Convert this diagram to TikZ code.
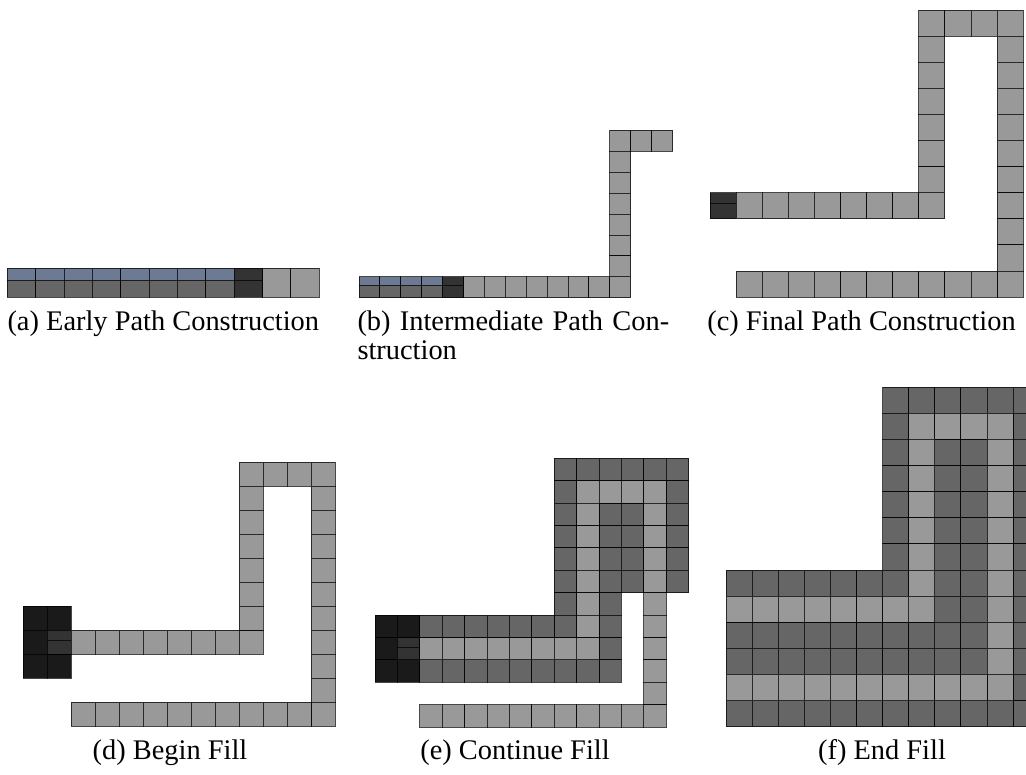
\documentclass[tikz,border=0pt]{standalone}
\usepackage{fontspec}
\setmainfont{Liberation Serif}
\definecolor{cLG}{HTML}{999999}
\definecolor{cDK}{HTML}{666666}
\definecolor{cDD}{HTML}{333333}
\definecolor{cBK}{HTML}{1A1A1A}
\definecolor{cBL}{HTML}{6C7A94}
\tikzset{
  cellline/.style={draw=black, draw opacity=0.72, line width=0.9pt},
  lg/.style={fill=cLG}, dk/.style={fill=cDK}, dd/.style={fill=cDD}, bk/.style={fill=cBK},
  caption/.style={font=\fontsize{28.4}{31}\selectfont, inner sep=0pt}
}
\newcommand\sq[3]{\path[#3,cellline] (#1,#2) rectangle ++(1,1);}
\newcommand\splitsq[5]{%
  \fill[#3] (#1,#2) rectangle ++(1,#5);
  \fill[#4] (#1,#2+#5) rectangle (#1+1,#2+1);
  \draw[cellline] (#1,#2) rectangle ++(1,1);
  \draw[cellline] (#1,#2+#5) -- ++(1,0);}
\begin{document}
\begin{tikzpicture}[x=1pt,y=-1pt]
\useasboundingbox (0,0) rectangle (1026,775);
% (a)
\begin{scope}[shift={(7.3,268.4)}, x=28.36pt, y=-28.9pt]
  \foreach \i in {0,...,7} {\splitsq{\i}{0}{cBL}{cDK}{0.41}}
  \splitsq{8}{0}{cDD}{cDD}{0.41}
  \foreach \i in {9,10} {\sq{\i}{0}{lg}}
\end{scope}
% (b)
\begin{scope}[shift={(359,130.5)}, x=20.9pt, y=-20.9pt]
  \foreach \i in {0,...,3} {\splitsq{\i}{7}{cBL}{cDK}{0.4}}
  \splitsq{4}{7}{cDD}{cDD}{0.4}
  \foreach \i in {5,...,12} {\sq{\i}{7}{lg}}
  \foreach \j in {0,...,6} {\sq{12}{\j}{lg}}
  \foreach \i in {13,14} {\sq{\i}{0}{lg}}
\end{scope}
% (c)
\begin{scope}[shift={(710,10)}, x=26.1pt, y=-26.1pt]
  \splitsq{0}{7}{cDD}{cDD}{0.4}
  \foreach \i in {1,...,8} {\sq{\i}{7}{lg}}
  \foreach \j in {0,...,6} {\sq{8}{\j}{lg}}
  \foreach \i in {9,10,11} {\sq{\i}{0}{lg}}
  \foreach \j in {1,...,10} {\sq{11}{\j}{lg}}
  \foreach \i in {1,...,10} {\sq{\i}{10}{lg}}
\end{scope}
% (d)
\begin{scope}[shift={(23.3,462.3)}, x=24pt, y=-24pt]
  \foreach \p in {(0,6),(0,7),(0,8),(1,6),(1,8)} {\path[bk,cellline] \p rectangle ++(1,1);}
  \splitsq{1}{7}{cDD}{cDD}{0.43}
  \foreach \i in {2,...,9} {\sq{\i}{7}{lg}}
  \foreach \j in {0,...,6} {\sq{9}{\j}{lg}}
  \foreach \i in {10,11,12} {\sq{\i}{0}{lg}}
  \foreach \j in {1,...,10} {\sq{12}{\j}{lg}}
  \foreach \i in {2,...,11} {\sq{\i}{10}{lg}}
\end{scope}
% (e)
\begin{scope}[shift={(375,458.3)}, x=22.4pt, y=-22.4pt]
  \foreach \p in {(0,7),(1,7),(0,8),(0,9),(1,9)} {\path[bk,cellline] \p rectangle ++(1,1);}
  \splitsq{1}{8}{cDD}{cDD}{0.44}
  \foreach \i in {8,...,13} {\sq{\i}{0}{dk}}
  \foreach \j in {1,...,7} {\sq{8}{\j}{dk}}
  \foreach \j in {1,...,5} {\sq{13}{\j}{dk}}
  \foreach \j in {2,...,5} {\sq{10}{\j}{dk}\sq{11}{\j}{dk}}
  \foreach \j in {6,...,9} {\sq{10}{\j}{dk}}
  \foreach \i in {2,...,7} {\sq{\i}{7}{dk}}
  \foreach \i in {2,...,9} {\sq{\i}{9}{dk}}
  \foreach \i in {9,...,12} {\sq{\i}{1}{lg}}
  \foreach \j in {2,...,8} {\sq{9}{\j}{lg}}
  \foreach \j in {2,...,11} {\sq{12}{\j}{lg}}
  \foreach \i in {2,...,8} {\sq{\i}{8}{lg}}
  \foreach \i in {2,...,11} {\sq{\i}{11}{lg}}
\end{scope}
% (f)
\begin{scope}
  \clip (700,380) rectangle (1026,740);
  \begin{scope}[shift={(726,387.3)}, x=26.1pt, y=-26.1pt]
    \foreach \i in {6,...,11} {\sq{\i}{0}{dk}}
    \foreach \j in {1,...,7} {\sq{6}{\j}{dk}}
    \foreach \j in {1,...,12} {\sq{11}{\j}{dk}}
    \foreach \j in {2,...,10} {\sq{8}{\j}{dk}\sq{9}{\j}{dk}}
    \foreach \i in {0,...,5} {\sq{\i}{7}{dk}}
    \foreach \i in {0,...,7} {\sq{\i}{9}{dk}\sq{\i}{10}{dk}}
    \foreach \i in {0,...,10} {\sq{\i}{12}{dk}}
    \foreach \i in {7,...,10} {\sq{\i}{1}{lg}}
    \foreach \j in {2,...,8} {\sq{7}{\j}{lg}}
    \foreach \j in {2,...,11} {\sq{10}{\j}{lg}}
    \foreach \i in {0,...,6} {\sq{\i}{8}{lg}}
    \foreach \i in {0,...,9} {\sq{\i}{11}{lg}}
  \end{scope}
\end{scope}
% captions
\node[caption, anchor=base] (la) at (163.3,331) {(a) Early Path Construction};
\node[caption, anchor=base west] (lb1) at (357.3,331) {\makebox[311.7pt][s]{(b) Intermediate Path Con-}};
\node[caption, anchor=base west] (lb2) at (357.3,360) {struction};
\node[caption, anchor=base] (lc) at (861.5,331) {(c) Final Path Construction};
\node[caption, anchor=base] (ld) at (170,759) {(d) Begin Fill};
\node[caption, anchor=base] (le) at (515,759) {(e) Continue Fill};
\node[caption, anchor=base] (lf) at (882,759) {(f) End Fill};
\end{tikzpicture}
\end{document}
